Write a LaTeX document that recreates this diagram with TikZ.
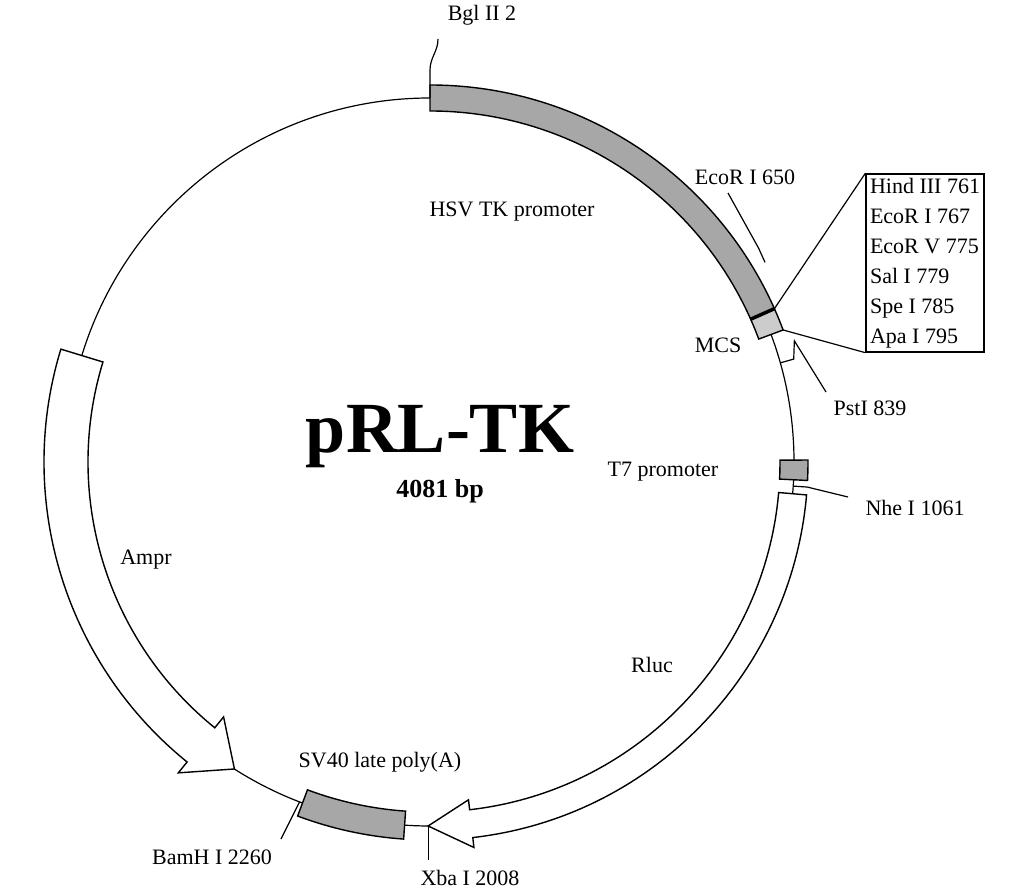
\documentclass[tikz,border=0pt]{standalone}
\usepackage{fontspec}
\setmainfont{Liberation Serif}
\usetikzlibrary{calc}

\tikzset{
    lbl/.style={inner sep=1pt, font=\fontsize{22}{26}\selectfont},
    band/.style={draw, line width=1.4pt},
    tick/.style={line width=1.2pt}
}
% point on the plasmid at angle #1, radius #2
\newcommand{\onring}[2]{($(C)+(#1:#2)$)}

\begin{document}
\begin{tikzpicture}[x=1pt, y=1pt, line width=1.2pt]
    \useasboundingbox (0,0) rectangle (1032,889);
    \coordinate (C) at (430,427);

    % backbone
    \draw (C) circle[radius=364];

    % HSV TK promoter and MCS
    \filldraw[band, fill=gray!85!black!60] \onring{90}{377} arc[start angle=90, end angle=24, radius=377]
        -- \onring{24}{351} arc[start angle=24, end angle=90, radius=351] -- cycle;
    \filldraw[band, fill=gray!40] \onring{24}{377} arc[start angle=24, end angle=20.5, radius=377]
        -- \onring{20.5}{351} arc[start angle=20.5, end angle=24, radius=351] -- cycle;
    \draw[line width=3.5pt] \onring{24}{351} -- \onring{24}{377};

    % T7 promoter
    \filldraw[band, fill=gray!85!black!60] \onring{0.3}{378} arc[start angle=0.3, end angle=-2.8, radius=378]
        -- \onring{-2.8}{350} arc[start angle=-2.8, end angle=0.3, radius=350] -- cycle;

    % SV40 late poly(A)
    \filldraw[band, fill=gray!85!black!60] \onring{-94}{378} arc[start angle=-94, end angle=-110.5, radius=378]
        -- \onring{-110.5}{350} arc[start angle=-110.5, end angle=-94, radius=350] -- cycle;

    % Rluc arrow
    \filldraw[band, fill=white] \onring{-5}{378} arc[start angle=-5, end angle=-83.5, radius=378]
        -- \onring{-83.5}{388} -- \onring{-90.3}{364} -- \onring{-83.5}{340}
        -- \onring{-83.5}{350} arc[start angle=-83.5, end angle=-5, radius=350] -- cycle;

    % Ampr arrow
    \filldraw[band, fill=white] \onring{163}{386} arc[start angle=163, end angle=231, radius=386]
        -- \onring{231}{400} -- \onring{237.5}{364} -- \onring{231}{328}
        -- \onring{231}{342} arc[start angle=231, end angle=163, radius=342] -- cycle;

    % sites
    \node[lbl] (bglL) at (482,874) {Bgl II 2};
    \coordinate (bglE) at (438,850);
    \draw[tick] \onring{90}{364} -- ++(0,28) to[out=90, in=-90] (bglE);

    \node[lbl] (ecorL) at (745,712) {EcoR I 650};
    \coordinate (ecorE) at (728,696);
    \draw[tick] \onring{30.8}{390} -- \onring{33}{392} -- (ecorE);

    \node[lbl, draw, align=left, inner sep=4pt, line width=1.4pt,
          font=\fontsize{22}{30}\selectfont] (mcsbox) at (925,626)
          {Hind III 761\\EcoR I 767\\EcoR V 775\\Sal I 779\\Spe I 785\\Apa I 795};
    \draw[tick] \onring{24}{377} -- (mcsbox.north west);
    \draw[tick] \onring{20.5}{377} -- (mcsbox.south west);
    \node[lbl] (mcsL) at (718,544) {MCS};

    \node[lbl] (pstL) at (870,481) {PstI 839};
    \coordinate (pstE) at (826,497);
    \draw[tick] \onring{15.8}{364} -- \onring{15.8}{378} -- \onring{18.4}{384} -- (pstE);

    \node[lbl] (t7L) at (663,417) {T7 promoter};

    \node[lbl] (nheL) at (915,381) {Nhe I 1061};
    \coordinate (nheE) at (848,392);
    \draw[tick] \onring{-3.8}{364} -- \onring{-3.8}{378} -- (nheE);

    \node[lbl] (xbaL) at (470,11) {Xba I 2008};
    \draw[tick] \onring{-90.3}{364} -- ++(0,-34);

    \node[lbl] (bamL) at (212,32) {BamH I 2260};
    \coordinate (bamE) at (281,50);
    \draw[tick] \onring{-111}{364} -- (bamE);

    % feature labels
    \node[lbl] (hsvL) at (512,677) {HSV TK promoter};
    \node[lbl] (rlucL) at (652,224) {Rluc};
    \node[lbl] (sv40L) at (380,127) {SV40 late poly(A)};
    \node[lbl] (amprL) at (146,329) {Ampr};

    % title
    \node[font=\bfseries\fontsize{72}{80}\selectfont, inner sep=0] (name) at (440,452) {pRL-TK};
    \node[font=\bfseries\fontsize{26}{30}\selectfont, inner sep=0] (size) at (440,398) {4081 bp};
\end{tikzpicture}
\end{document}
